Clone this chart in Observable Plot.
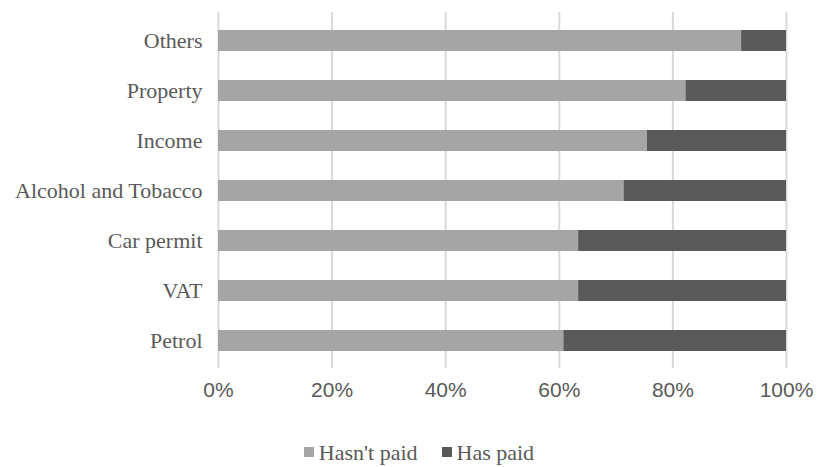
<!DOCTYPE html>
<html>
<head>
<meta charset="utf-8">
<script src="https://cdn.jsdelivr.net/npm/d3@7"></script>
<script src="https://cdn.jsdelivr.net/npm/@observablehq/plot@0.6"></script>
<style>
  body { margin: 0; background: #fff; }
  #chart { width: 818px; }
  .legend { display: flex; justify-content: center; gap: 24px; padding-left: 20px; margin-top: 23px; line-height: 24px;
    font-family: "Liberation Serif", "Times New Roman", serif; font-size: 22px; color: #595959; }
  .legend span { display: inline-flex; align-items: center; }
  .legend i { display: inline-block; width: 10px; height: 10px; margin-right: 5px; margin-top: -3px; }
</style>
</head>
<body>
<div id="chart"></div>
<script>
const categories = ["Others", "Property", "Income", "Alcohol and Tobacco", "Car permit", "VAT", "Petrol"];
const hasntPaid = [0.921, 0.823, 0.755, 0.714, 0.634, 0.634, 0.608];
const hasPaid = [0.079, 0.177, 0.245, 0.286, 0.366, 0.366, 0.392];
const seriesNames = ["Hasn't paid", "Has paid"];
const seriesColors = ["#a5a5a5", "#595959"];
const xTicks = [0, 0.2, 0.4, 0.6, 0.8, 1];

const rows = [];
categories.forEach((c, i) => {
  rows.push({category: c, series: seriesNames[0], value: hasntPaid[i]});
  rows.push({category: c, series: seriesNames[1], value: hasPaid[i]});
});

const serif = "'Liberation Serif', 'Times New Roman', serif";

const chart = Plot.plot({
  width: 818,
  height: 418,
  marginLeft: 218,
  marginRight: 32,
  marginTop: 12,
  marginBottom: 50,
  style: {background: "#fff"},
  x: {domain: [0, 1], ticks: xTicks, tickFormat: d3.format(".0%"), label: null},
  y: {domain: categories, label: null, paddingInner: 0.59, paddingOuter: 0.295},
  color: {domain: seriesNames, range: seriesColors},
  marks: [
    Plot.gridX(xTicks, {stroke: "#d9d9d9", strokeOpacity: 1, strokeWidth: 2}),
    Plot.barX(rows, Plot.stackX({y: "category", x: "value", fill: "series", order: seriesNames})),
    Plot.axisY({tickSize: 0, tickPadding: 16, fontSize: 22, fontFamily: serif, fill: "#595959"}),
    Plot.axisX(xTicks, {tickSize: 0, tickPadding: 14, fontSize: 21, fontFamily: "'Liberation Sans', Arial, sans-serif", fill: "#595959", tickFormat: d3.format(".0%")})
  ]
});
document.getElementById("chart").appendChild(chart);

const legend = document.createElement("div");
legend.className = "legend";
seriesNames.forEach((n, i) => {
  const s = document.createElement("span");
  const sw = document.createElement("i");
  sw.style.background = seriesColors[i];
  s.appendChild(sw);
  s.appendChild(document.createTextNode(n));
  legend.appendChild(s);
});
document.getElementById("chart").appendChild(legend);
</script>
</body>
</html>
